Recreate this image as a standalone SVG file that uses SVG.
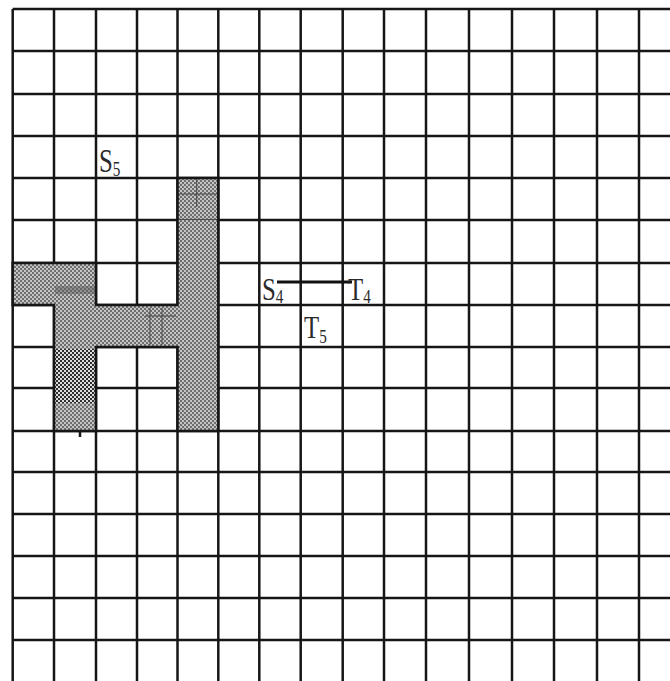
<svg xmlns="http://www.w3.org/2000/svg" width="670" height="681" viewBox="0 0 670 681">
<defs>
<pattern id="ht" width="4" height="4" patternUnits="userSpaceOnUse">
<rect width="4" height="4" fill="#c4c4c4"/>
<rect width="2" height="2" fill="#6e6e6e"/>
<rect x="2" y="2" width="2" height="2" fill="#6e6e6e"/>
</pattern>
<pattern id="htd" width="4" height="4" patternUnits="userSpaceOnUse">
<rect width="4" height="4" fill="#dcdcdc"/>
<rect width="2" height="2" fill="#2e2e2e"/>
<rect x="2" y="2" width="2" height="2" fill="#2e2e2e"/>
</pattern>
</defs>
<style>
.g{stroke:#161616;stroke-width:2.5;fill:none}
.fine{stroke:#4a4a4a;stroke-width:1;fill:none}
.lbl{font-family:"Liberation Serif","Times New Roman",serif;fill:#2a2a2a}
.big{font-size:31px}
.sub{font-size:19px}
</style>
<rect width="670" height="681" fill="#ffffff"/>
<g id="grid" class="g">
<path d="M12.7 9V681M54 9V681M96 9V681M137 9V681M177.5 9V681M218.3 9V681M259.3 9V681M300.7 9V681M342.7 9V681M384 9V681M426 9V681M469 9V681M512 9V681M554 9V681M597 9V681M639 9V681"/>
<path d="M12.7 9H670M12.7 51H670M12.7 94H670M12.7 136H670M12.7 178H670M12.7 220H670M12.7 263H670M12.7 305H670M12.7 347H670M12.7 388H670M12.7 431H670M12.7 472H670M12.7 514H670M12.7 556H670M12.7 598H670M12.7 640H670"/>
</g>
<g id="shape">
<path d="M12.7 263H96V305H177.5V178H218.3V431H177.5V347H96V431H54V305H12.7Z" fill="url(#ht)"/>
<rect x="55" y="349" width="40" height="54" fill="url(#htd)"/>
<rect x="55" y="286" width="40" height="8" fill="#5a5a5a" opacity="0.5"/>
<path class="fine" d="M177.5 194H218.3M196.7 179V207M150 308V345M162 308V345M145 316H176"/>
<path class="fine" d="M178 219.5H218" stroke="#888"/>
<path class="g" d="M12.7 263H96V305H177.5V178H218.3V431H177.5V347H96V431H54V305H12.7Z"/>
<path class="g" d="M80 431V437" stroke-width="2"/>
</g>
<g id="connectors">
<line x1="277" y1="282" x2="352" y2="282" stroke="#111" stroke-width="3"/>
</g>
<g id="label-S5">
<text class="lbl" transform="translate(99,172) scale(0.8,1.1)"><tspan class="big">S</tspan><tspan class="sub" dy="4">5</tspan></text>
</g>
<g id="label-S4">
<text class="lbl" transform="translate(262,300) scale(0.8,1.0)"><tspan class="big">S</tspan><tspan class="sub" dy="3">4</tspan></text>
</g>
<g id="label-T4">
<text class="lbl" transform="translate(348,300) scale(0.8,1.0)"><tspan class="big">T</tspan><tspan class="sub" dy="3">4</tspan></text>
</g>
<g id="label-T5">
<text class="lbl" transform="translate(304,338) scale(0.8,1.0)"><tspan class="big">T</tspan><tspan class="sub" dy="5">5</tspan></text>
</g>
</svg>
